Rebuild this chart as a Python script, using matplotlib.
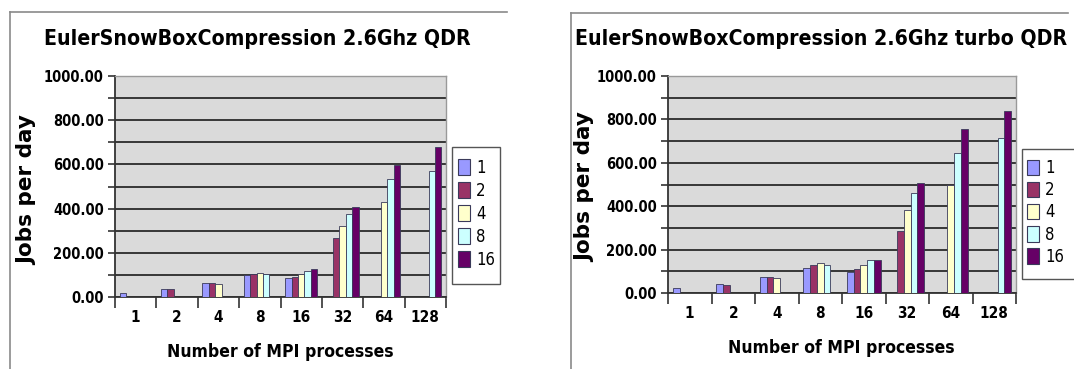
import numpy as np
import matplotlib
matplotlib.use("Agg")
import matplotlib.pyplot as plt
from matplotlib.patches import Rectangle, Patch

# ---- data ----
groups = ["1", "2", "4", "8", "16", "32", "64", "128"]
series = ["1", "2", "4", "8", "16"]
nan = np.nan
left_vals = {
    "1":  [17, 36, 62, 98, 85, nan, nan, nan],
    "2":  [nan, 36, 62, 103, 92, 267, nan, nan],
    "4":  [nan, nan, 59, 110, 103, 322, 430, nan],
    "8":  [nan, nan, nan, 103, 117, 376, 532, 571],
    "16": [nan, nan, nan, nan, 125, 406, 598, 677],
}
right_vals = {
    "1":  [21, 40, 72, 117, 98, nan, nan, nan],
    "2":  [nan, 38, 75, 127, 110, 284, nan, nan],
    "4":  [nan, nan, 69, 138, 130, 383, 497, nan],
    "8":  [nan, nan, nan, 130, 150, 460, 643, 712],
    "16": [nan, nan, nan, nan, 150, 509, 756, 837],
}
titles = ["EulerSnowBoxCompression 2.6Ghz QDR",
          "EulerSnowBoxCompression 2.6Ghz turbo QDR"]
colors = ["#9999FF", "#993366", "#FFFFCC", "#CCFFFF", "#660066"]

W, H = 1074, 369
fig = plt.figure(figsize=(W / 100, H / 100), dpi=100)
fig.patch.set_facecolor("white")

COND = dict(family="DejaVu Sans", stretch="condensed")

def px_axes(x0, y0, x1, y1):
    return fig.add_axes([x0 / W, (H - y1) / H, (x1 - x0) / W, (y1 - y0) / H])

def fx(x):
    return x / W

def fy(y):
    return 1 - y / H

def draw(ax, box, vals, title, tx, ty, lg_box, lg_anchor, lg_hh, lg_space, frame, xl, yl):
    x0, y0, x1, y1 = box
    # frame around chart
    gx, gy = frame
    fig.add_artist(plt.Line2D([fx(gx), fx(gx)], [0, fy(gy)], color="#8a8a8a", lw=1.2))
    fig.add_artist(plt.Line2D([fx(gx), min(1, fx(gx + 497))], [fy(gy), fy(gy)],
                              color="#8a8a8a", lw=1.2))
    ax.set_facecolor("#DADADA")
    n = len(groups)
    x = np.arange(n)
    bw = 0.155
    offs = (np.arange(len(series)) - 2) * bw
    handles = []
    for i, s in enumerate(series):
        ax.bar(x + offs[i], vals[s], width=bw, color=colors[i], edgecolor="#3a3a5a",
               linewidth=0.6, zorder=3)
        handles.append(Patch(facecolor=colors[i], edgecolor="#3a3a5a", linewidth=0.8, label=s))
    ax.set_xlim(-0.5, n - 0.5)
    ax.set_ylim(0, 1000)
    yt = np.arange(0, 1001, 100)
    ax.set_yticks(yt)
    ax.set_yticklabels([f"{v:.2f}" if v % 200 == 0 else "" for v in yt],
                       fontsize=10.5, fontweight="bold", **COND)
    ax.yaxis.grid(True, color="#2a2a2a", lw=1.3, zorder=1)
    ax.set_axisbelow(True)
    ax.set_xticks(x)
    ax.set_xticklabels(groups, fontsize=11, fontweight="bold", **COND)
    ax.set_xticks(np.arange(-0.5, n, 1), minor=True)
    ax.tick_params(axis="x", which="major", length=0, pad=9)
    ax.tick_params(axis="x", which="minor", length=8, width=1.2, color="#333333")
    ax.tick_params(axis="y", length=5, width=1.2, color="#333333", pad=3)
    for side in ["left", "bottom"]:
        ax.spines[side].set_color("#333333")
        ax.spines[side].set_linewidth(1.3)
    for side in ["top", "right"]:
        ax.spines[side].set_color("#999999")
        ax.spines[side].set_linewidth(1.0)
    pw, ph = x1 - x0, y1 - y0
    ax.set_xlabel("Number of MPI processes", fontsize=12.6, fontweight="bold",
                  va="center", **COND)
    ax.xaxis.set_label_coords((xl[0] - x0) / pw, (y1 - xl[1]) / ph)
    ax.set_ylabel("Jobs per day", fontsize=15.5, fontweight="bold", family="DejaVu Sans",
                  va="center")
    ax.yaxis.set_label_coords((yl[0] - x0) / pw, (y1 - yl[1]) / ph)
    fig.text(fx(tx), fy(ty), title, ha="center", va="center", fontsize=15.2,
             fontweight="bold", **COND)
    # legend box
    lx0, ly0, lx1, ly1 = lg_box
    fig.add_artist(Rectangle((fx(lx0), fy(ly1)), fx(lx1) - fx(lx0), fy(ly0) - fy(ly1),
                             facecolor="white", edgecolor="#555555", lw=1.0, zorder=5))
    leg = fig.legend(handles=handles, loc="upper left",
                     bbox_to_anchor=(fx(lg_anchor[0]), fy(lg_anchor[1])),
                     bbox_transform=fig.transFigure,
                     frameon=False, prop=dict(size=12, **COND), handlelength=0.72,
                     handleheight=lg_hh, handletextpad=0.35, labelspacing=lg_space,
                     borderpad=0, borderaxespad=0)
    leg.set_zorder(6)

axL = px_axes(115, 76, 446, 297)
draw(axL, (115, 76, 446, 297), left_vals, titles[0], 257, 39,
     (452, 147, 500, 284), (458, 159), 1.1, 0.3, (10, 12), (280, 352), (27, 190))
axR = px_axes(668, 76, 1016, 293)
draw(axR, (668, 76, 1016, 293), right_vals, titles[1], 821, 39,
     (1022, 149, 1085, 279), (1027, 159), 1.05, 0.25, (571, 13), (841, 348), (585, 187))

fig.savefig("out.png", dpi=100)
